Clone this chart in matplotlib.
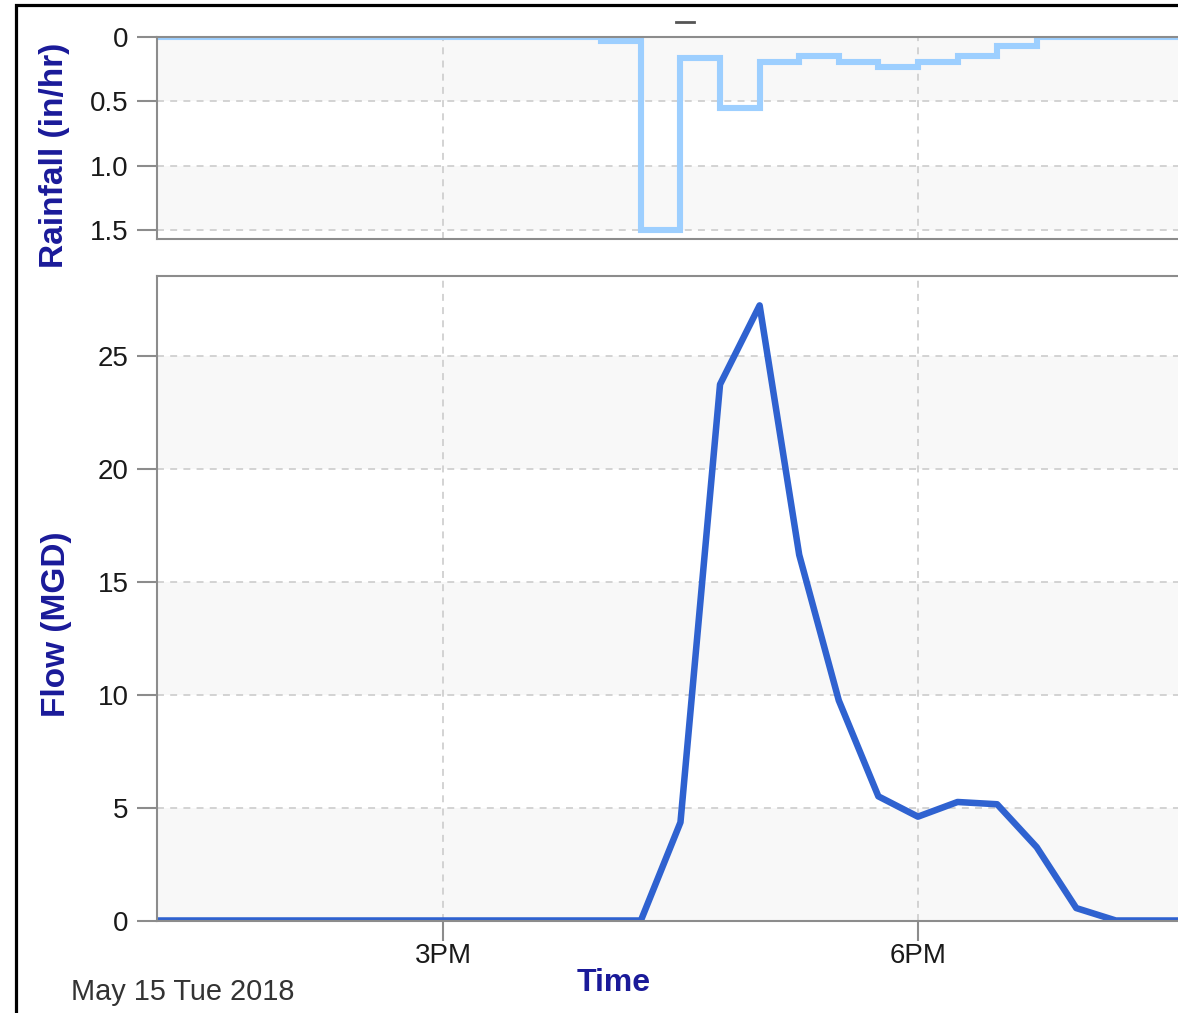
import matplotlib
matplotlib.use("Agg")
import matplotlib.pyplot as plt
import matplotlib.dates as mdates
from matplotlib.lines import Line2D
from matplotlib.patches import Rectangle
from matplotlib.ticker import FuncFormatter
import pandas as pd
from datetime import datetime

# ---------------- data ----------------
start_time = "2018-05-15 13:00"
step = "15min"
rainfall = [0, 0, 0, 0, 0, 0, 0, 0, 0, 0, 0, 0,
            0.03, 1.5, 0.16, 0.55, 0.19, 0.15, 0.19, 0.23, 0.19, 0.15, 0.07, 0,
            0, 0, 0, 0]
flow = [0, 0, 0, 0, 0, 0, 0, 0, 0, 0, 0, 0, 0, 0,
        4.35, 23.75, 27.25, 16.2, 9.75, 5.5, 4.6, 5.25, 5.15, 3.25, 0.55, 0,
        0, 0]
rain_ticks = [0, 0.5, 1.0, 1.5]
rain_tick_labels = ["0", "0.5", "1.0", "1.5"]
flow_ticks = [0, 5, 10, 15, 20, 25]
x_tick_hours = [15, 18]
date_label = "May 15 Tue 2018"

times = pd.date_range(start_time, periods=len(flow), freq=step).to_pydatetime()

# ---------------- style ----------------
plt.rcParams['font.family'] = ['Liberation Sans', 'DejaVu Sans']
plt.rcParams['lines.scale_dashes'] = False

W, H = 1178, 1013
fig = plt.figure(figsize=(W / 100, H / 100), dpi=100)
fig.patch.set_facecolor("white")


def rect(l, t, r, b):
    return [l / W, 1 - b / H, (r - l) / W, (b - t) / H]


ax1 = fig.add_axes(rect(157, 37, 1195, 239))
ax2 = fig.add_axes(rect(157, 276.5, 1195, 920.5))

xmin = datetime(2018, 5, 15, 13, 11, 37)
xmax = datetime(2018, 5, 15, 19, 45)

spine_c = "#8c8c8c"
grid_c = "#cccccc"
band_c = "#f8f8f8"
tick_txt = "#1a1a1a"
label_c = "#1a1a99"

for ax in (ax1, ax2):
    ax.set_facecolor("white")
    ax.set_xlim(xmin, xmax)
    ax.xaxis.set_major_locator(mdates.HourLocator(byhour=x_tick_hours))
    ax.xaxis.set_major_formatter(FuncFormatter(
        lambda v, pos: mdates.num2date(v).strftime('%I%p').lstrip('0')))
    for side in ("left", "top", "bottom"):
        ax.spines[side].set_color(spine_c)
        ax.spines[side].set_linewidth(1.5)
    ax.spines["right"].set_visible(False)
    ax.grid(True, color=grid_c, linestyle=(0, (5, 4.5)), linewidth=1.2)
    ax.set_axisbelow(True)
    ax.tick_params(axis='y', direction='out', length=14.5, width=1.5,
                   color=spine_c, labelsize=20, labelcolor=tick_txt, pad=6)
    ax.tick_params(axis='x', direction='out', length=14.5, width=1.5,
                   color=spine_c, labelsize=20, labelcolor=tick_txt, pad=2)

# ---- rainfall panel ----
ax1.set_ylim(1.566, 0)
ax1.set_yticks(rain_ticks)
ax1.set_yticklabels(rain_tick_labels)
for i in range(0, len(rain_ticks) - 1, 2):
    ax1.axhspan(rain_ticks[i], rain_ticks[i + 1], color=band_c, zorder=0.1, lw=0)
ax1.tick_params(axis='x', length=0, labelbottom=False)
ax1.plot(times, rainfall, drawstyle='steps-post', color="#9dcfff",
         linewidth=4.4, solid_joinstyle='miter', zorder=2)

# ---- flow panel ----
ax2.set_ylim(0, 28.53)
ax2.set_yticks(flow_ticks)
for i in range(0, len(flow_ticks) - 1, 2):
    ax2.axhspan(flow_ticks[i], flow_ticks[i + 1], color=band_c, zorder=0.1, lw=0)
ax2.plot(times, flow, color="#2f62d0", linewidth=4.7,
         solid_joinstyle='round', solid_capstyle='round', zorder=2)

# ---- labels ----
fig.text(55 / W, 1 - 155 / H, "Rainfall (in/hr)", rotation=90, ha='center',
         va='center', fontsize=24, fontweight='bold', color=label_c)
fig.text(57 / W, 1 - 624 / H, "Flow (MGD)", rotation=90, ha='center',
         va='center', fontsize=24, fontweight='bold', color=label_c)
fig.text(614 / W, 1 - 983 / H, "Time", ha='center', va='center',
         fontsize=23, fontweight='bold', color=label_c)
fig.text(71 / W, 1 - 992 / H, date_label, ha='left', va='center',
         fontsize=20.8, color="#333333")

# small dash at top
fig.add_artist(Line2D([676 / W, 694 / W], [1 - 22.5 / H, 1 - 22.5 / H],
                      transform=fig.transFigure, color="#555555", linewidth=2))

# black frame (left and top visible)
fig.add_artist(Rectangle((15.5 / W, -0.1), 2.0, 1.1 - 5.5 / H,
                         transform=fig.transFigure, fill=False,
                         edgecolor="black", linewidth=2.3))

fig.savefig("out.png", dpi=100)
